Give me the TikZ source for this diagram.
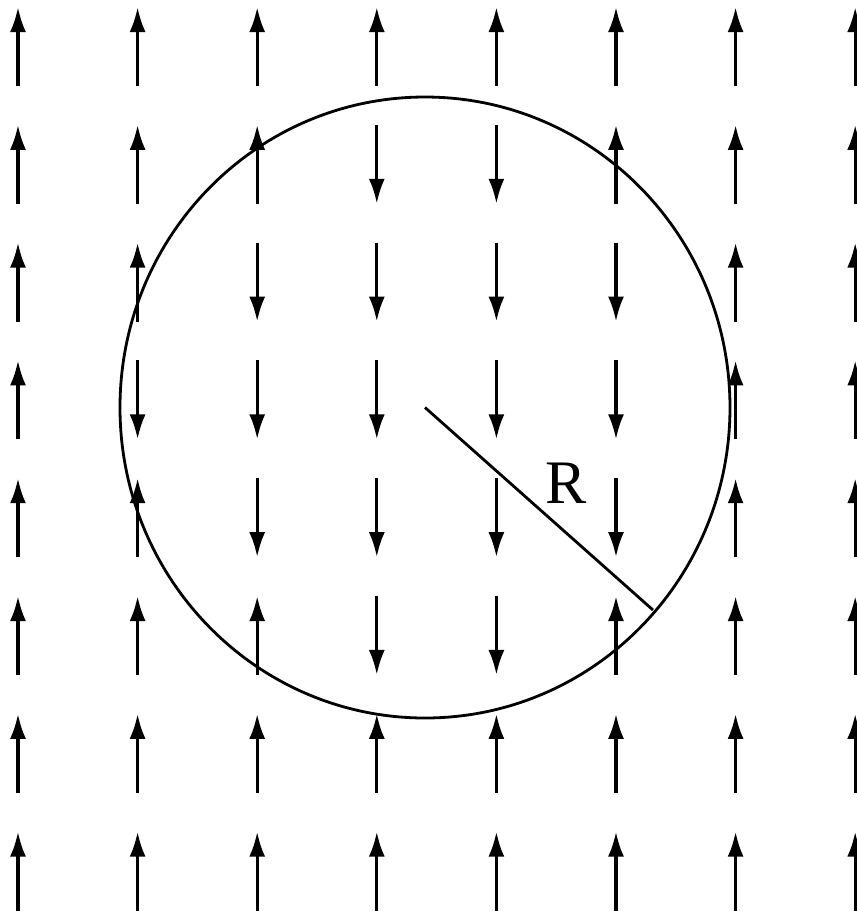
\documentclass[tikz,border=0pt]{standalone}
\usepackage{fontspec}
\setmainfont{Liberation Serif}
\usetikzlibrary{arrows.meta}

\tikzset{
  field/.style={->, line width=0.33mm},
  ring/.style={line width=0.28mm}
}

\begin{document}
\begin{tikzpicture}[x=0.01cm, y=-0.01cm, >={Latex[length=2.5mm, width=1.6mm]}]
  \useasboundingbox (0,0) rectangle (857,914);

  % arrows pointing up (outside the circle)
  \foreach \r/\cols in {1/{1,...,8}, 2/{1,2,3,6,7,8}, 3/{1,2,7,8}, 4/{1,7,8},
                        5/{1,2,7,8}, 6/{1,2,3,6,7,8}, 7/{1,...,8}, 8/{1,...,8}}
    \foreach \c in \cols
      \draw[field] ({18+119.6*(\c-1)}, {86+117.8*(\r-1)}) -- ({18+119.6*(\c-1)}, {7+117.8*(\r-1)});

  % arrows pointing down (inside the circle)
  \foreach \r/\cols in {2/{4,5}, 3/{3,...,6}, 4/{2,...,6}, 5/{3,...,6}, 6/{4,5}}
    \foreach \c in \cols
      \draw[field] ({18+119.6*(\c-1)}, {7+117.8*(\r-1)}) -- ({18+119.6*(\c-1)}, {86+117.8*(\r-1)});

  % circle and radius
  \coordinate (O) at (425,407.5);
  \coordinate (P) at (653,610);
  \draw[ring] (O) ellipse [x radius=305, y radius=310.5];
  \draw[ring] (O) -- (P);
  \node[font=\fontsize{17.6}{20}\selectfont] (lblR) at (566,483) {R};
\end{tikzpicture}
\end{document}
